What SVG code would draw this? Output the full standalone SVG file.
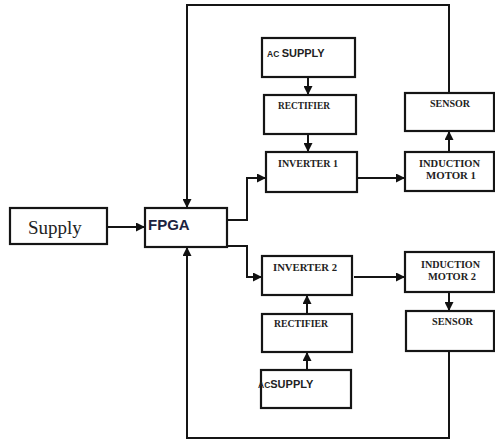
<svg xmlns="http://www.w3.org/2000/svg" width="495" height="443" viewBox="0 0 495 443">
<style>
.box{fill:#fff;stroke:#151515;stroke-width:2.2}
.ln{fill:none;stroke:#151515;stroke-width:2}
.sm{font-family:"Liberation Serif",serif;font-weight:bold;font-size:10px;fill:#222}
.ac{font-family:"Liberation Sans",sans-serif;font-weight:bold;font-size:11px;fill:#222}
</style>
<defs>
<marker id="ah" markerWidth="9" markerHeight="9" refX="8" refY="4.5" orient="auto" markerUnits="userSpaceOnUse">
<path d="M0,0 L9,4.5 L0,9 Z" fill="#111"/>
</marker>
</defs>
<rect width="495" height="443" fill="#fff"/>
<g id="connectors">
<path class="ln" d="M449,93 V5 H187 V207" marker-end="url(#ah)"/>
<path class="ln" d="M449,351 V438 H187 V248" marker-end="url(#ah)"/>
<path class="ln" d="M107,227 H144" marker-end="url(#ah)"/>
<path class="ln" d="M227,220 H247 V178 H265" marker-end="url(#ah)"/>
<path class="ln" d="M227,246 H247 V277 H261" marker-end="url(#ah)"/>
<path class="ln" d="M357,178 H404" marker-end="url(#ah)"/>
<path class="ln" d="M354,277 H404" marker-end="url(#ah)"/>
<path class="ln" d="M308,77 V94" marker-end="url(#ah)"/>
<path class="ln" d="M308,134 V151" marker-end="url(#ah)"/>
<path class="ln" d="M449,152 V132" marker-end="url(#ah)"/>
<path class="ln" d="M449,292 V310" marker-end="url(#ah)"/>
<path class="ln" d="M307,314 V296" marker-end="url(#ah)"/>
<path class="ln" d="M307,370 V353" marker-end="url(#ah)"/>
</g>
<g id="ac1"><rect class="box" x="262" y="38" width="93" height="39"/><text x="267" y="57" class="ac"><tspan font-size="8.5">AC </tspan>SUPPLY</text></g>
<g id="rect1"><rect class="box" x="264" y="95" width="92" height="39"/><text x="278" y="109" class="sm" textLength="52" lengthAdjust="spacingAndGlyphs">RECTIFIER</text></g>
<g id="inv1"><rect class="box" x="266" y="152" width="91" height="40"/><text x="278" y="167" class="sm" textLength="60" lengthAdjust="spacingAndGlyphs">INVERTER 1</text></g>
<g id="sensor1"><rect class="box" x="405" y="93" width="89" height="38"/><text x="430" y="107" class="sm" textLength="40" lengthAdjust="spacingAndGlyphs">SENSOR</text></g>
<g id="motor1"><rect class="box" x="405" y="152" width="89" height="39"/><text x="419" y="167" class="sm" textLength="61" lengthAdjust="spacingAndGlyphs">INDUCTION</text><text x="426" y="179" class="sm" textLength="50" lengthAdjust="spacingAndGlyphs">MOTOR 1</text></g>
<g id="supply"><rect class="box" x="10" y="208" width="97" height="36"/><text x="28" y="234" font-family="Liberation Serif,serif" font-size="19" fill="#222">Supply</text></g>
<g id="fpga"><rect class="box" x="145" y="208" width="82" height="39"/><text x="148" y="230" font-family="Liberation Sans,sans-serif" font-weight="bold" font-size="15" fill="#1c2340">FPGA</text></g>
<g id="inv2"><rect class="box" x="262" y="256" width="90" height="39"/><text x="273" y="271" class="sm" textLength="64" lengthAdjust="spacingAndGlyphs">INVERTER 2</text></g>
<g id="motor2"><rect class="box" x="405" y="252" width="89" height="40"/><text x="421" y="268" class="sm" textLength="59" lengthAdjust="spacingAndGlyphs">INDUCTION</text><text x="428" y="280" class="sm" textLength="48" lengthAdjust="spacingAndGlyphs">MOTOR 2</text></g>
<g id="sensor2"><rect class="box" x="406" y="311" width="88" height="40"/><text x="432" y="325" class="sm" textLength="41" lengthAdjust="spacingAndGlyphs">SENSOR</text></g>
<g id="rect2"><rect class="box" x="262" y="314" width="90" height="38"/><text x="274" y="327" class="sm" textLength="54" lengthAdjust="spacingAndGlyphs">RECTIFIER</text></g>
<g id="ac2"><rect class="box" x="261" y="370" width="90" height="38"/><text x="258" y="388" class="ac"><tspan font-size="8.5">AC</tspan>SUPPLY</text></g>
</svg>
